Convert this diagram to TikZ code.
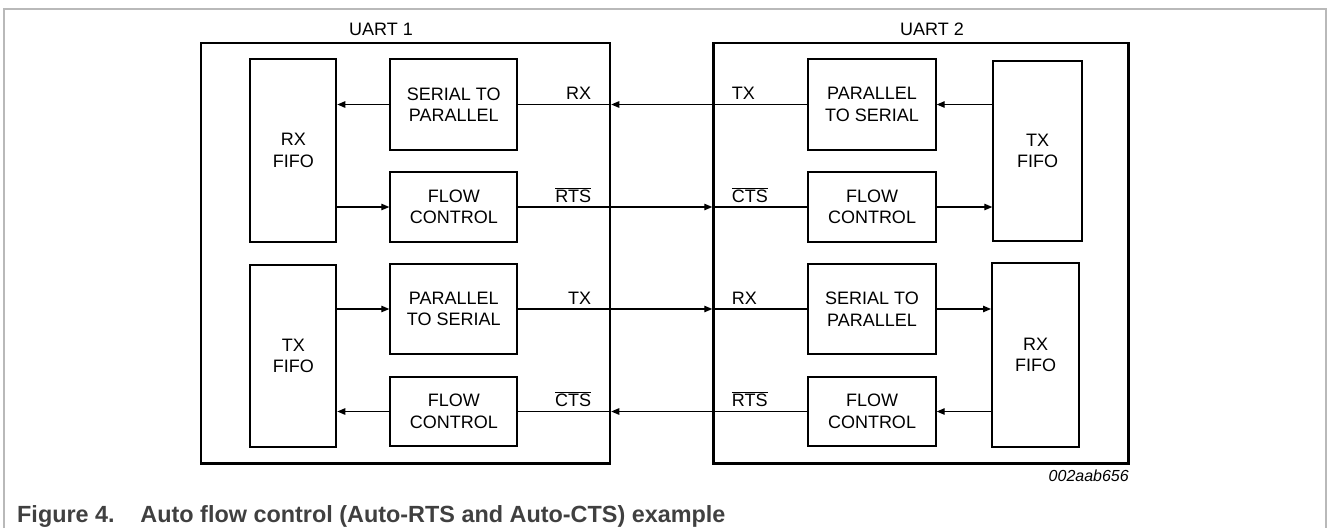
\documentclass[tikz,border=0pt]{standalone}
\usepackage{fontspec}
\setmainfont{Liberation Sans}
\usepackage{tikz}
\usetikzlibrary{arrows.meta}

\definecolor{framegray}{RGB}{185,185,185}
\definecolor{capgray}{RGB}{64,64,64}
\newcommand{\blkfont}{\fontsize{18}{21.5}\selectfont}
\newcommand{\capfont}{\fontsize{23.4}{28}\selectfont\bfseries}
\newcommand{\nsig}[1]{$\overline{\mbox{#1}}$}

\begin{document}
\begin{tikzpicture}[x=1pt,y=-1pt,
    blk/.style={draw,line width=2pt,align=center,font=\blkfont,inner sep=0pt},
    uart/.style={draw,line width=2.5pt,inner sep=0pt},
    sig/.style={line width=1.2pt},
    arr/.style={sig,-{Triangle[length=8pt,width=6.5pt]}},
    lbl/.style={font=\blkfont,inner sep=0pt}]
        \useasboundingbox (0,0) rectangle (1328,528);
        \draw[framegray,line width=1.5pt] (4,528)--(4,9)--(1326,9)--(1326,528);
        % the two uarts
        \node[uart,minimum width=409pt,minimum height=420.5pt] (uartA) at (405.5,253.25) {};
        \node[uart,minimum width=415pt,minimum height=420.5pt] (uartB) at (921,253.25) {};
        \node[lbl,anchor=base] (nameA) at (381,35) {UART 1};
        \node[lbl,anchor=base] (nameB) at (932,35) {UART 2};
        % blocks of uart 1
        \node[blk,minimum width=86pt,minimum height=183pt] (rxfifoA) at (293.3,150.5) {RX\\FIFO};
        \node[blk,minimum width=127pt,minimum height=91pt] (s2pA) at (453.8,104.5) {SERIAL TO\\PARALLEL};
        \node[blk,minimum width=127pt,minimum height=70pt] (fcA1) at (453.8,207) {FLOW\\CONTROL};
        \node[blk,minimum width=86pt,minimum height=182pt] (txfifoA) at (293.3,356) {TX\\FIFO};
        \node[blk,minimum width=127pt,minimum height=90pt] (p2sA) at (453.8,309) {PARALLEL\\TO SERIAL};
        \node[blk,minimum width=127pt,minimum height=69pt] (fcA2) at (453.8,411.5) {FLOW\\CONTROL};
        % blocks of uart 2
        \node[blk,minimum width=127.4pt,minimum height=91pt] (p2sB) at (872,104.5) {PARALLEL\\TO SERIAL};
        \node[blk,minimum width=88.4pt,minimum height=180pt] (txfifoB) at (1037.5,150.8) {TX\\FIFO};
        \node[blk,minimum width=127.4pt,minimum height=70pt] (fcB1) at (872,207) {FLOW\\CONTROL};
        \node[blk,minimum width=127.4pt,minimum height=90pt] (s2pB) at (872,309) {SERIAL TO\\PARALLEL};
        \node[blk,minimum width=87pt,minimum height=184pt] (rxfifoB) at (1035.5,355) {RX\\FIFO};
        \node[blk,minimum width=127.4pt,minimum height=69pt] (fcB2) at (872,411.5) {FLOW\\CONTROL};
        % arrows inside the uarts
        \draw[arr] (s2pA.west) -- (s2pA.west -| rxfifoA.east);
        \draw[arr] (rxfifoA.east |- fcA1.west) -- (fcA1.west);
        \draw[arr] (txfifoA.east |- p2sA.west) -- (p2sA.west);
        \draw[arr] (fcA2.west) -- (fcA2.west -| txfifoA.east);
        \draw[arr] (txfifoB.west |- p2sB.east) -- (p2sB.east);
        \draw[arr] (fcB1.east) -- (fcB1.east -| txfifoB.west);
        \draw[arr] (s2pB.east) -- (s2pB.east -| rxfifoB.west);
        \draw[arr] (rxfifoB.west |- fcB2.east) -- (fcB2.east);
        % where the wires cross the uart walls
        \coordinate (bA1) at (uartA.east |- s2pA.east);
        \coordinate (bB1) at (uartB.west |- p2sB.west);
        \coordinate (bA2) at (uartA.east |- fcA1.east);
        \coordinate (bB2) at (uartB.west |- fcB1.west);
        \coordinate (bA3) at (uartA.east |- p2sA.east);
        \coordinate (bB3) at (uartB.west |- s2pB.west);
        \coordinate (bA4) at (uartA.east |- fcA2.east);
        \coordinate (bB4) at (uartB.west |- fcB2.west);
        % wires between the uarts
        \draw[arr] (p2sB.west) -- (bA1);
        \draw[sig] (bA1) -- (s2pA.east);
        \draw[arr] (fcA1.east) -- (bB2);
        \draw[sig] (bB2) -- (fcB1.west);
        \draw[arr] (p2sA.east) -- (bB3);
        \draw[sig] (bB3) -- (s2pB.west);
        \draw[arr] (fcB2.west) -- (bA4);
        \draw[sig] (bA4) -- (fcA2.east);
        % wire names
        \node[lbl,anchor=base east] (rxA) at ([xshift=-20pt,yshift=5pt]bA1) {RX};
        \node[lbl,anchor=base west] (txB) at ([xshift=19.5pt,yshift=5pt]bB1) {TX};
        \node[lbl,anchor=base east] (rtsA) at ([xshift=-20pt,yshift=5pt]bA2) {\nsig{RTS}};
        \node[lbl,anchor=base west] (ctsB) at ([xshift=19.5pt,yshift=5pt]bB2) {\nsig{CTS}};
        \node[lbl,anchor=base east] (txA) at ([xshift=-20pt,yshift=5pt]bA3) {TX};
        \node[lbl,anchor=base west] (rxB) at ([xshift=19.5pt,yshift=5pt]bB3) {RX};
        \node[lbl,anchor=base east] (ctsA) at ([xshift=-20pt,yshift=5pt]bA4) {\nsig{CTS}};
        \node[lbl,anchor=base west] (rtsB) at ([xshift=19.5pt,yshift=5pt]bB4) {\nsig{RTS}};
        % figure id and caption
        \node[anchor=base east,inner sep=0pt,font=\fontsize{16}{19}\selectfont\itshape] (figid) at (1129,481) {002aab656};
        \node[anchor=base west,inner sep=0pt,font=\capfont,text=capgray] (caption) at (17,522) {Figure 4.\hspace{1.1em}Auto flow control (Auto-RTS and Auto-CTS) example};
      \end{tikzpicture}
\end{document}
